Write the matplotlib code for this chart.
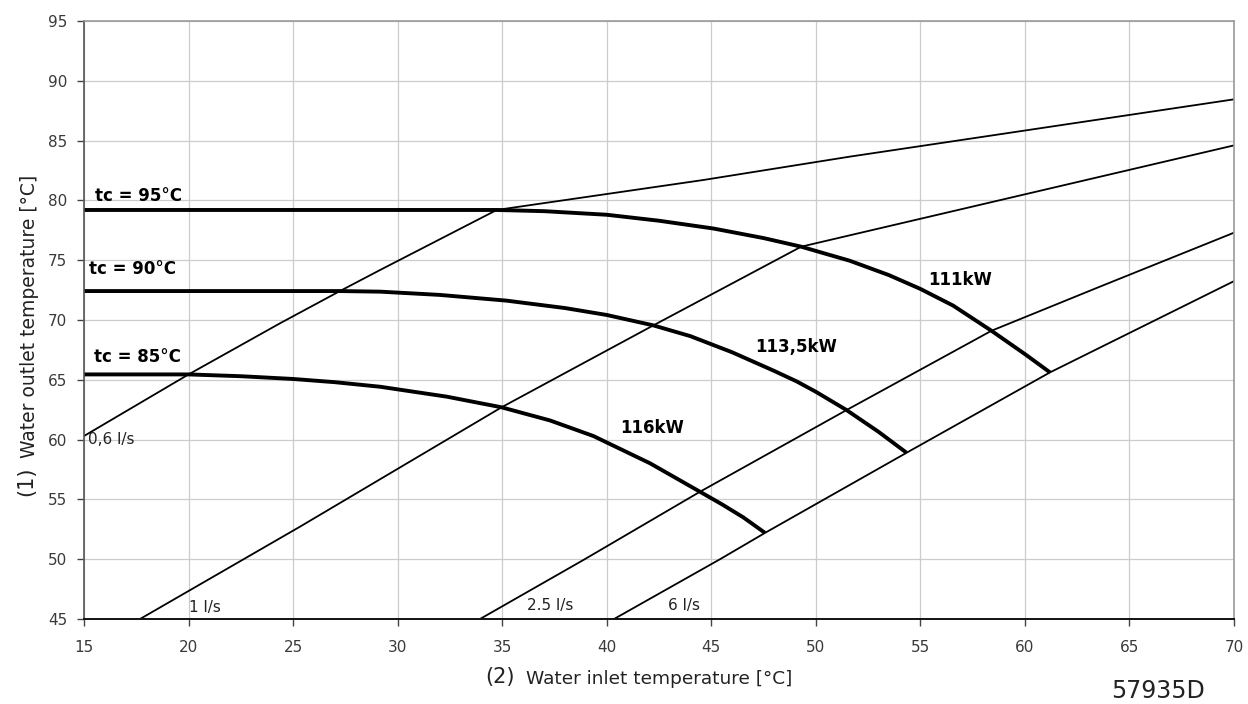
import matplotlib
matplotlib.use("Agg")
import matplotlib.pyplot as plt

plt.rcParams['font.family'] = ['DejaVu Sans']

# ---- data ----
x_ticks = [15, 20, 25, 30, 35, 40, 45, 50, 55, 60, 65, 70]
y_ticks = [45, 50, 55, 60, 65, 70, 75, 80, 85, 90, 95]

# water-flow lines (thin)
flow_06_x = [15, 20, 24.37, 27.24, 29.16, 34.74, 44.6, 51.63, 70]
flow_06_y = [60.3, 65.45, 69.72, 72.42, 74.18, 79.2, 81.7, 83.66, 88.45]
flow_1_x = [17.68, 25.33, 34.97, 38.72, 42.23, 49.3, 70]
flow_1_y = [45.0, 52.72, 62.7, 66.24, 69.55, 76.13, 84.6]
flow_25_x = [33.94, 38.88, 44.46, 51.47, 58.4, 63.59, 70]
flow_25_y = [45.0, 49.93, 55.64, 62.47, 69.1, 72.79, 77.3]
flow_6_x = [40.35, 45.42, 47.57, 54.34, 61.2, 70]
flow_6_y = [45.0, 50.0, 52.2, 58.9, 65.62, 73.25]

# condensing-temperature / capacity curves (thick)
tc95_x = [15, 25, 34.74, 37, 40, 42.5, 45.1, 47.5, 49.3, 51.63, 53.5, 55, 56.57, 58.4, 60, 61.2]
tc95_y = [79.2, 79.2, 79.2, 79.1, 78.8, 78.3, 77.65, 76.85, 76.13, 74.95, 73.75, 72.6, 71.2,
          69.1, 67.15, 65.62]
tc90_x = [15, 24.37, 27.24, 29.16, 32, 35.2, 38, 40, 42.23, 44, 46, 48, 49.08, 50, 51.47, 53,
          54.34]
tc90_y = [72.42, 72.42, 72.42, 72.37, 72.1, 71.62, 71.0, 70.42, 69.55, 68.65, 67.3, 65.75, 64.87,
          64.0, 62.47, 60.65, 58.9]
tc85_x = [15, 20, 22.5, 25, 27, 29.16, 32.35, 34.97, 37.29, 39.36, 42.07, 44.46, 45.5, 46.53,
          47.57]
tc85_y = [65.45, 65.45, 65.3, 65.07, 64.8, 64.42, 63.59, 62.7, 61.6, 60.3, 58.02, 55.64, 54.6,
          53.5, 52.2]

flow_labels = ["0,6 l/s", "1 l/s", "2.5 l/s", "6 l/s"]
flow_label_x = [15.2, 20.79, 37.29, 43.69]
flow_label_y = [60.0, 46.0, 46.17, 46.17]

tc_labels = ["tc = 95°C", "tc = 90°C", "tc = 85°C"]
tc_label_x = [15.53, 15.24, 15.48]
tc_label_y = [80.37, 74.24, 66.93]

kw_labels = ["111kW", "113,5kW", "116kW"]
kw_label_x = [56.9, 49.05, 42.15]
kw_label_y = [73.35, 67.77, 60.95]

# ---- figure ----
fig = plt.figure(figsize=(12.48, 7.04), dpi=100)
ax = fig.add_axes([84 / 1248, 1 - 619 / 704, (1234 - 84) / 1248, (619 - 21) / 704])

ax.set_xlim(15, 70)
ax.set_ylim(45, 95)
ax.set_xticks(x_ticks)
ax.set_yticks(y_ticks)
ax.grid(True, color='#cccccc', linewidth=0.9)
ax.set_axisbelow(True)

for s in ['top', 'right']:
    ax.spines[s].set_color('#9a9a9a')
    ax.spines[s].set_linewidth(1.2)
ax.spines['left'].set_color('#555555')
ax.spines['left'].set_linewidth(1.2)
ax.spines['bottom'].set_color('#111111')
ax.spines['bottom'].set_linewidth(1.4)

ax.tick_params(axis='both', direction='out', length=5, width=1, color='#444444',
               labelsize=11, labelcolor='#3a3a3a')
ax.tick_params(axis='x', pad=10)
ax.tick_params(axis='y', pad=7)

thin = dict(color='black', linewidth=1.3, solid_capstyle='butt')
thick = dict(color='black', linewidth=2.8, solid_capstyle='butt', solid_joinstyle='round')

ax.plot(flow_06_x, flow_06_y, **thin)
ax.plot(flow_1_x, flow_1_y, **thin)
ax.plot(flow_25_x, flow_25_y, **thin)
ax.plot(flow_6_x, flow_6_y, **thin)

ax.plot(tc95_x, tc95_y, **thick)
ax.plot(tc90_x, tc90_y, **thick)
ax.plot(tc85_x, tc85_y, **thick)

for i, t in enumerate(flow_labels):
    ha = 'left' if i == 0 else 'center'
    ax.text(flow_label_x[i], flow_label_y[i], t, fontsize=11, ha=ha, va='center',
            color='#222222')

for i, t in enumerate(tc_labels):
    ax.text(tc_label_x[i], tc_label_y[i], t, fontsize=12, fontweight='bold',
            ha='left', va='center', color='black')

for i, t in enumerate(kw_labels):
    ax.text(kw_label_x[i], kw_label_y[i], t, fontsize=12, fontweight='bold',
            ha='center', va='center', color='black')

# axis labels as figure text
fig.text(500 / 1248, 1 - 677 / 704, "(2)", fontsize=15, ha='center', va='center', color='#222222')
fig.text(526 / 1248, 1 - 679 / 704, "Water inlet temperature [°C]", fontsize=13.3,
         ha='left', va='center', color='#222222')
fig.text(26 / 1248, 1 - 481 / 704, "(1)", fontsize=15, rotation=90, ha='center', va='center',
         color='#222222')
fig.text(30 / 1248, 1 - 458 / 704, "Water outlet temperature [°C]", fontsize=13.5, rotation=90,
         ha='center', va='bottom', color='#222222')

fig.text(1158 / 1248, 1 - 691 / 704, "57935D", fontsize=17, ha='center', va='center',
         color='#222222')

fig.savefig("out.png", dpi=100)
